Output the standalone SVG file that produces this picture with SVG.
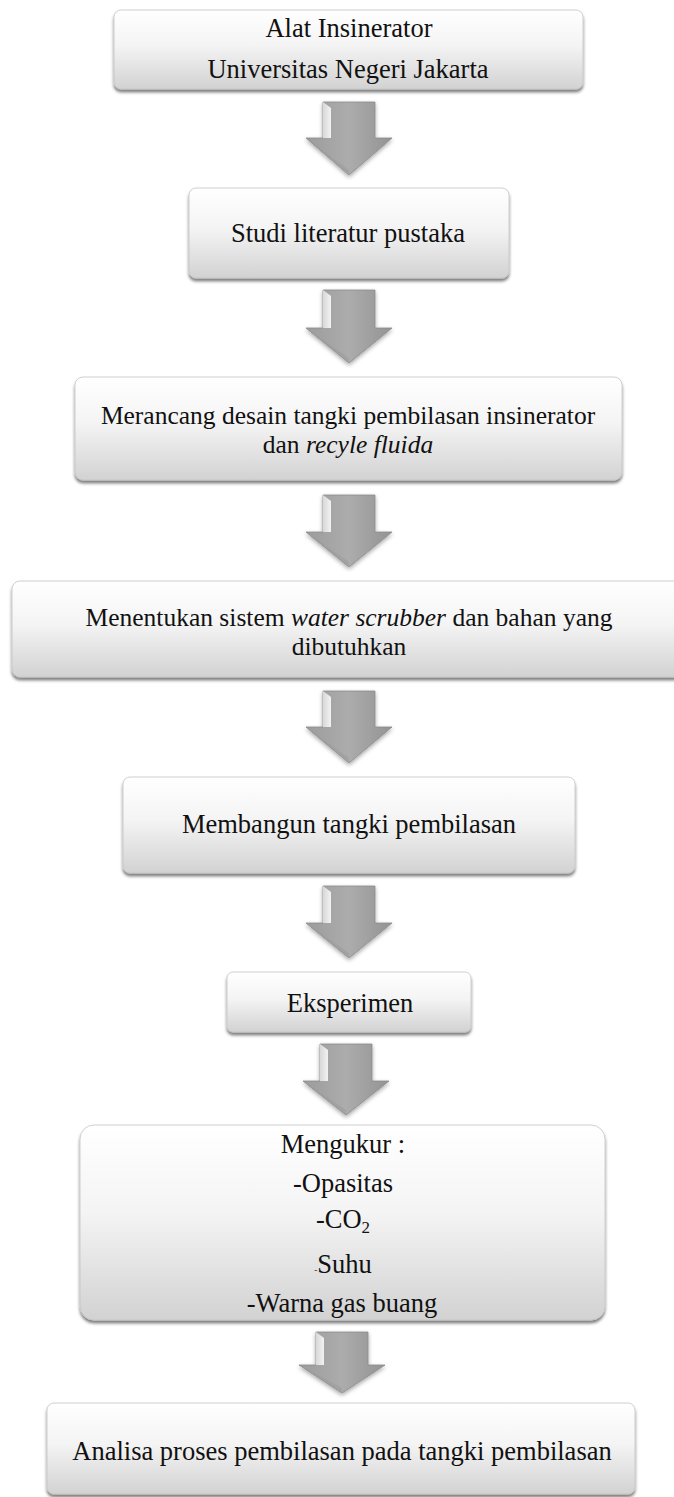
<svg xmlns="http://www.w3.org/2000/svg" width="674" height="1497" viewBox="0 0 674 1497">
<style>
.box{fill:url(#boxGrad);stroke:#c4c4c4;stroke-width:0.8;filter:url(#shadow)}
.t{font-family:"Liberation Serif","Times New Roman",serif;font-size:26.5px;fill:#111;text-anchor:middle}
.t2{font-size:25.5px}
.i{font-style:italic}
.arr{fill:url(#arrGrad);stroke:#8a8a8a;stroke-width:0.8;filter:url(#ashadow)}
.hl{fill:url(#hlGrad);stroke:none}
.hd{fill:#9a9a9a;opacity:0.5;stroke:none}
</style>
<defs>
<linearGradient id="boxGrad" x1="0" y1="0" x2="0" y2="1">
<stop offset="0" stop-color="#ffffff"/>
<stop offset="0.45" stop-color="#f4f4f4"/>
<stop offset="1" stop-color="#d2d2d2"/>
</linearGradient>
<linearGradient id="arrGrad" x1="0" y1="0" x2="1" y2="0">
<stop offset="0" stop-color="#9c9c9c"/>
<stop offset="0.5" stop-color="#acacac"/>
<stop offset="1" stop-color="#939393"/>
</linearGradient>
<linearGradient id="hlGrad" x1="0" y1="0" x2="1" y2="0">
<stop offset="0" stop-color="#d8d8d8"/>
<stop offset="1" stop-color="#f2f2f2"/>
</linearGradient>
<filter id="shadow" x="-5%" y="-10%" width="110%" height="125%">
<feDropShadow dx="0" dy="3" stdDeviation="1.6" flood-color="#000" flood-opacity="0.5"/>
</filter>
<filter id="ashadow" x="-20%" y="-10%" width="140%" height="130%">
<feDropShadow dx="0" dy="2" stdDeviation="2" flood-color="#000" flood-opacity="0.35"/>
</filter>
</defs>

<g id="connectors">
<g id="arrow1">
<path class="arr" d="M323,102 L375,102 L375,138 L392,138 L349,175 L306,138 L323,138 Z"/>
<path class="hl" d="M323,102 L331,108 L331,138 L323,138 Z"/>
<path class="hd" d="M306,138 L349,175 L349,170 Z"/>
</g>
<g id="arrow2">
<path class="arr" d="M323,290 L375,290 L375,328 L392,328 L349,363 L306,328 L323,328 Z"/>
<path class="hl" d="M323,290 L331,296 L331,328 L323,328 Z"/>
<path class="hd" d="M306,328 L349,363 L349,358 Z"/>
</g>
<g id="arrow3">
<path class="arr" d="M323,495 L375,495 L375,532 L392,532 L349,567 L306,532 L323,532 Z"/>
<path class="hl" d="M323,495 L331,501 L331,532 L323,532 Z"/>
<path class="hd" d="M306,532 L349,567 L349,562 Z"/>
</g>
<g id="arrow4">
<path class="arr" d="M323,691 L375,691 L375,727 L392,727 L349,763 L306,727 L323,727 Z"/>
<path class="hl" d="M323,691 L331,697 L331,727 L323,727 Z"/>
<path class="hd" d="M306,727 L349,763 L349,758 Z"/>
</g>
<g id="arrow5">
<path class="arr" d="M323,886 L375,886 L375,923 L392,923 L349,958 L306,923 L323,923 Z"/>
<path class="hl" d="M323,886 L331,892 L331,923 L323,923 Z"/>
<path class="hd" d="M306,923 L349,958 L349,953 Z"/>
</g>
<g id="arrow6">
<path class="arr" d="M320,1044 L372,1044 L372,1081 L389,1081 L346,1115 L303,1081 L320,1081 Z"/>
<path class="hl" d="M320,1044 L328,1050 L328,1081 L320,1081 Z"/>
<path class="hd" d="M303,1081 L346,1115 L346,1110 Z"/>
</g>
<g id="arrow7">
<path class="arr" d="M316,1332 L368,1332 L368,1365 L385,1365 L342,1393 L299,1365 L316,1365 Z"/>
<path class="hl" d="M316,1332 L324,1338 L324,1365 L316,1365 Z"/>
<path class="hd" d="M299,1365 L342,1393 L342,1388 Z"/>
</g>
</g>

<g id="node1">
<rect class="box" x="114" y="10" width="469" height="79" rx="7"/>
<text class="t" x="349" y="37">Alat Insinerator</text>
<text class="t" x="348" y="78">Universitas Negeri  Jakarta</text>
</g>

<g id="node2">
<rect class="box" x="189" y="188" width="320" height="90" rx="7"/>
<text class="t" x="348" y="242">Studi literatur pustaka</text>
</g>

<g id="node3">
<rect class="box" x="75" y="377" width="547" height="103" rx="8"/>
<text class="t t2" x="348" y="424">Merancang desain tangki pembilasan insinerator</text>
<text class="t t2" x="348" y="453">dan <tspan class="i">recyle fluida</tspan></text>
</g>

<g id="node4">
<rect class="box" x="12" y="581" width="676" height="96" rx="8"/>
<text class="t t2" x="349" y="626">Menentukan sistem <tspan class="i">water scrubber</tspan> dan bahan yang</text>
<text class="t t2" x="349" y="655">dibutuhkan</text>
</g>

<g id="node5">
<rect class="box" x="123" y="777" width="452" height="96" rx="7"/>
<text class="t" x="349" y="833">Membangun tangki pembilasan</text>
</g>

<g id="node6">
<rect class="box" x="227" y="972" width="244" height="60" rx="6"/>
<text class="t" x="350" y="1012">Eksperimen</text>
</g>

<g id="node7">
<rect class="box" x="80" y="1125" width="525" height="195" rx="14"/>
<text class="t" x="343" y="1153">Mengukur :</text>
<text class="t" x="343" y="1192">-Opasitas</text>
<text class="t" x="343" y="1228">-CO<tspan font-size="17" dy="5">2</tspan></text>
<text class="t" x="343" y="1273"><tspan font-size="9">-</tspan>Suhu</text>
<text class="t" x="342" y="1312">-Warna gas buang</text>
</g>

<g id="node8">
<rect class="box" x="47" y="1403" width="588" height="91" rx="7"/>
<text class="t" x="342" y="1460">Analisa proses pembilasan pada tangki pembilasan</text>
</g>
</svg>
